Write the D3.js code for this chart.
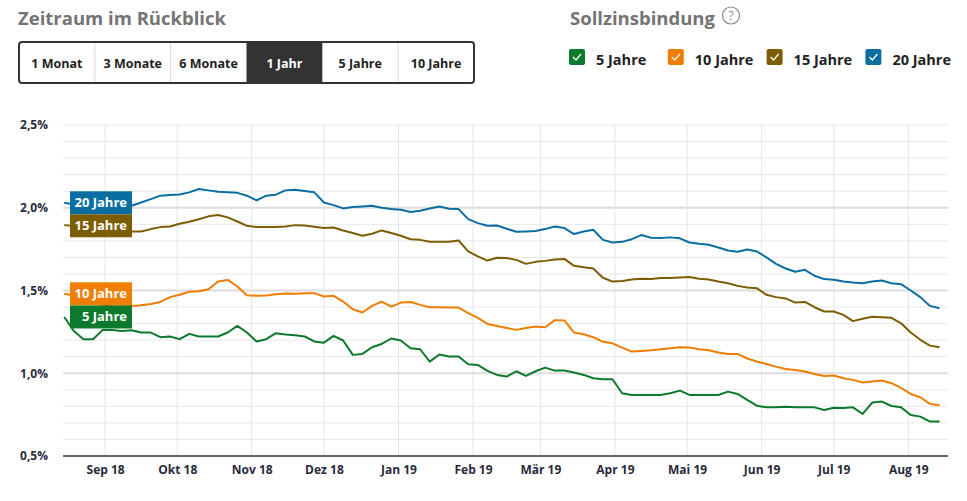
<!DOCTYPE html>
<html>
<head>
<meta charset="utf-8">
<script src="https://cdn.jsdelivr.net/npm/d3@7"></script>
<style>
  html, body { margin: 0; padding: 0; background: #fff; }
  svg { display: block; font-family: "Open Sans", "Noto Sans", sans-serif; }
</style>
</head>
<body>
<svg id="chart" width="967" height="501"></svg>
<script>
// ---------- DATA ----------
const dates = [
 "2018-08-15","2018-08-19","2018-08-23","2018-08-27","2018-08-31","2018-09-04","2018-09-08","2018-09-12",
 "2018-09-16","2018-09-20","2018-09-24","2018-09-28","2018-10-02","2018-10-06","2018-10-10","2018-10-14",
 "2018-10-18","2018-10-22","2018-10-26","2018-10-30","2018-11-03","2018-11-07","2018-11-11","2018-11-15",
 "2018-11-19","2018-11-23","2018-11-27","2018-12-01","2018-12-05","2018-12-09","2018-12-13","2018-12-17",
 "2018-12-21","2018-12-25","2018-12-29","2019-01-02","2019-01-06","2019-01-10","2019-01-14","2019-01-18",
 "2019-01-22","2019-01-26","2019-01-30","2019-02-03","2019-02-07","2019-02-11","2019-02-15","2019-02-19",
 "2019-02-23","2019-02-27","2019-03-03","2019-03-07","2019-03-11","2019-03-15","2019-03-19","2019-03-23",
 "2019-03-27","2019-03-31","2019-04-04","2019-04-08","2019-04-12","2019-04-16","2019-04-20","2019-04-24",
 "2019-04-28","2019-05-02","2019-05-06","2019-05-10","2019-05-14","2019-05-18","2019-05-22","2019-05-26",
 "2019-05-30","2019-06-03","2019-06-07","2019-06-11","2019-06-15","2019-06-19","2019-06-23","2019-06-27",
 "2019-07-01","2019-07-05","2019-07-09","2019-07-13","2019-07-17","2019-07-21","2019-07-25","2019-07-29",
 "2019-08-02","2019-08-06","2019-08-10","2019-08-14"
];

const jahre5 = [
 1.34,1.255,1.206,1.206,1.262,1.262,1.255,1.26,1.246,1.246,1.218,1.222,1.206,1.238,1.222,1.222,
 1.222,1.246,1.286,1.246,1.192,1.206,1.242,1.234,1.23,1.222,1.192,1.185,1.226,1.198,1.111,1.117,
 1.157,1.177,1.21,1.198,1.151,1.145,1.07,1.113,1.101,1.101,1.054,1.05,1.014,0.99,0.98,1.012,
 0.984,1.012,1.034,1.016,1.016,1.004,0.99,0.97,0.964,0.964,0.879,0.869,0.869,0.869,0.869,0.879,
 0.895,0.869,0.869,0.869,0.869,0.889,0.875,0.839,0.804,0.794,0.794,0.798,0.794,0.794,0.794,0.778,
 0.792,0.79,0.794,0.754,0.823,0.829,0.802,0.794,0.748,0.738,0.708,0.708
];
const jahre10 = [
 1.48,1.47,1.45,1.43,1.41,1.405,1.403,1.407,1.411,1.419,1.431,1.46,1.474,1.492,1.496,1.508,
 1.554,1.564,1.524,1.472,1.468,1.47,1.478,1.482,1.48,1.484,1.484,1.464,1.468,1.433,1.387,1.367,
 1.407,1.433,1.403,1.427,1.431,1.413,1.399,1.399,1.397,1.397,1.363,1.335,1.298,1.286,1.274,1.262,
 1.274,1.282,1.278,1.321,1.319,1.246,1.236,1.218,1.19,1.181,1.155,1.131,1.135,1.139,1.145,1.151,
 1.157,1.155,1.145,1.139,1.125,1.117,1.117,1.089,1.071,1.056,1.04,1.026,1.02,1.01,0.996,0.984,
 0.986,0.97,0.96,0.944,0.95,0.956,0.94,0.911,0.875,0.855,0.815,0.806
];
const jahre15 = [
 1.895,1.89,1.88,1.87,1.86,1.857,1.857,1.857,1.857,1.871,1.883,1.887,1.903,1.915,1.931,1.948,
 1.956,1.942,1.917,1.891,1.883,1.883,1.883,1.887,1.895,1.893,1.885,1.877,1.881,1.863,1.847,1.831,
 1.843,1.863,1.847,1.831,1.81,1.806,1.794,1.794,1.794,1.802,1.736,1.706,1.681,1.698,1.696,1.685,
 1.661,1.673,1.679,1.687,1.691,1.649,1.641,1.633,1.577,1.554,1.558,1.567,1.571,1.569,1.575,1.575,
 1.579,1.581,1.571,1.567,1.554,1.544,1.528,1.518,1.514,1.474,1.46,1.452,1.427,1.431,1.399,1.373,
 1.373,1.353,1.315,1.329,1.341,1.339,1.335,1.302,1.246,1.202,1.167,1.157
];
const jahre20 = [
 2.03,2.02,2.01,2.01,2.0,2.0,2.0,2.012,2.032,2.052,2.073,2.077,2.08,2.093,2.113,2.105,
 2.097,2.093,2.09,2.073,2.044,2.073,2.079,2.105,2.109,2.101,2.093,2.032,2.016,1.996,2.004,2.008,
 2.012,2.0,1.992,1.988,1.974,1.982,1.996,2.008,1.994,1.992,1.931,1.907,1.891,1.893,1.873,1.855,
 1.857,1.859,1.871,1.887,1.877,1.841,1.857,1.867,1.806,1.79,1.794,1.81,1.835,1.819,1.817,1.821,
 1.815,1.79,1.782,1.776,1.76,1.742,1.734,1.748,1.736,1.7,1.661,1.633,1.613,1.625,1.589,1.569,
 1.565,1.554,1.548,1.544,1.554,1.56,1.544,1.538,1.5,1.46,1.407,1.393
];

const seriesNames  = ["5 Jahre", "10 Jahre", "15 Jahre", "20 Jahre"];
const seriesValues = [jahre5, jahre10, jahre15, jahre20];
const seriesColors = ["#0c7a2c", "#ef7d00", "#7c5d04", "#0a6ea0"];

const rangeButtons = ["1 Monat", "3 Monate", "6 Monate", "1 Jahr", "5 Jahre", "10 Jahre"];
const activeButton = "1 Jahr";
const monthNames = ["Jan","Feb","Mär","Apr","Mai","Jun","Jul","Aug","Sep","Okt","Nov","Dez"];
const yTicks = [0.5, 1.0, 1.5, 2.0, 2.5];
const yMinorTicks = [0.6,0.7,0.8,0.9,1.1,1.2,1.3,1.4,1.6,1.7,1.8,1.9,2.1,2.2,2.3,2.4];

// ---------- LAYOUT ----------
const svg = d3.select("#chart");
const parse = d3.timeParse("%Y-%m-%d");
const dateObjs = dates.map(parse);

const plot = { left: 63, right: 948, top: 125, bottom: 456 };
const x = d3.scaleTime()
  .domain([new Date(2018, 7, 14, 12), new Date(2019, 7, 17, 12)])
  .range([plot.left, plot.right]);
const y = d3.scaleLinear().domain([0.5, 2.5]).range([plot.bottom, plot.top]);

// ---------- HEADER ----------
svg.append("text").attr("x", 18).attr("y", 25)
  .attr("font-size", 18.5).attr("font-weight", 700).attr("fill", "#747474")
  .text("Zeitraum im Rückblick");

const btnX0 = 19, btnY0 = 42, btnW = (474 - 19) / rangeButtons.length, btnH = 41;
const btnG = svg.append("g");
btnG.append("rect").attr("x", btnX0).attr("y", btnY0).attr("width", btnW * rangeButtons.length)
  .attr("height", btnH).attr("rx", 3).attr("fill", "#fff");
rangeButtons.forEach((b, i) => {
  const bx = btnX0 + i * btnW;
  if (b === activeButton) {
    btnG.append("rect").attr("x", bx).attr("y", btnY0).attr("width", btnW).attr("height", btnH)
      .attr("fill", "#333333");
  } else if (i > 0 && rangeButtons[i - 1] !== activeButton) {
    btnG.append("line").attr("x1", bx).attr("x2", bx).attr("y1", btnY0).attr("y2", btnY0 + btnH)
      .attr("stroke", "#d8d8d8").attr("stroke-width", 1);
  }
  btnG.append("text").attr("x", bx + btnW / 2).attr("y", 68)
    .attr("text-anchor", "middle").attr("font-size", 12.5).attr("font-weight", 700)
    .attr("fill", b === activeButton ? "#fff" : "#222")
    .text(b);
});
btnG.append("rect").attr("x", btnX0).attr("y", btnY0).attr("width", btnW * rangeButtons.length)
  .attr("height", btnH).attr("rx", 3).attr("fill", "none").attr("stroke", "#333").attr("stroke-width", 2);

svg.append("text").attr("x", 570).attr("y", 25)
  .attr("font-size", 18.5).attr("font-weight", 700).attr("fill", "#747474")
  .text("Sollzinsbindung");
svg.append("circle").attr("cx", 731).attr("cy", 15.5).attr("r", 8.5)
  .attr("fill", "none").attr("stroke", "#8a8a8a").attr("stroke-width", 1.2);
svg.append("text").attr("x", 731).attr("y", 20).attr("text-anchor", "middle")
  .attr("font-size", 12).attr("fill", "#8a8a8a").text("?");

// Legend
const legG = svg.append("g");
seriesNames.forEach((name, i) => {
  const lx = 569 + i * 98.8;
  legG.append("rect").attr("x", lx).attr("y", 49).attr("width", 16).attr("height", 16)
    .attr("rx", 2).attr("fill", seriesColors[i]);
  legG.append("path").attr("d", `M${lx + 4},${57} L${lx + 7},${60} L${lx + 12},${54}`)
    .attr("fill", "none").attr("stroke", "#fff").attr("stroke-width", 1.3);
  legG.append("text").attr("x", lx + 27).attr("y", 65)
    .attr("font-size", 14.5).attr("font-weight", 700).attr("fill", "#222").text(name);
});

// ---------- GRID ----------
const grid = svg.append("g");
grid.selectAll(".minor").data(yMinorTicks).enter().append("line")
  .attr("x1", plot.left).attr("x2", plot.right)
  .attr("y1", d => y(d)).attr("y2", d => y(d))
  .attr("stroke", "#e8e8e8").attr("stroke-width", 1);
grid.selectAll(".major").data(yTicks.filter(d => d > 0.5)).enter().append("line")
  .attr("x1", plot.left).attr("x2", plot.right)
  .attr("y1", d => y(d)).attr("y2", d => y(d))
  .attr("stroke", d => d === 2.5 ? "#e6e6e6" : "#dcdcdc").attr("stroke-width", d => d === 2.5 ? 1 : 2);

const months = d3.timeMonth.range(new Date(2018, 8, 1), new Date(2019, 7, 17));
grid.selectAll(".vgrid").data(months).enter().append("line")
  .attr("x1", d => x(d)).attr("x2", d => x(d))
  .attr("y1", plot.top).attr("y2", plot.bottom)
  .attr("stroke", "#e4e4e4").attr("stroke-width", 1);

// ---------- AXES ----------
const xAxis = d3.axisBottom(x).tickValues(months).tickSize(0).tickPadding(0)
  .tickFormat(d => monthNames[d.getMonth()] + " " + String(d.getFullYear()).slice(2));
const xg = svg.append("g").attr("transform", `translate(0,${plot.bottom})`).call(xAxis);
xg.select(".domain").remove();
xg.selectAll("text").attr("y", 18).attr("dy", 0).attr("font-size", 12).attr("font-weight", 700)
  .attr("fill", "#2a2a3a").attr("font-family", "Open Sans, sans-serif");

svg.append("line").attr("x1", plot.left).attr("x2", plot.right)
  .attr("y1", plot.bottom).attr("y2", plot.bottom).attr("stroke", "#333").attr("stroke-width", 1.5);

const yAxis = d3.axisLeft(y).tickValues(yTicks).tickSize(0).tickPadding(0)
  .tickFormat(d => d3.format(".1f")(d).replace(".", ",") + "%");
const yg = svg.append("g").attr("transform", `translate(48,0)`).call(yAxis);
yg.select(".domain").remove();
yg.selectAll("text").attr("font-size", 12).attr("font-weight", 700).attr("fill", "#2a2a3a")
  .attr("font-family", "Open Sans, sans-serif");

// ---------- LINES ----------
const line = d3.line().x((d, i) => x(dateObjs[i])).y(d => y(d)).curve(d3.curveLinear);
const linesG = svg.append("g");
seriesValues.forEach((vals, i) => {
  linesG.append("path").datum(vals).attr("d", line)
    .attr("fill", "none").attr("stroke", seriesColors[i]).attr("stroke-width", 2)
    .attr("stroke-linejoin", "round");
});

// ---------- START BADGES ----------
const badgeH = 23;
let badges = seriesValues.map((vals, i) => ({ i, cy: y(vals[0]) }));
badges.sort((a, b) => a.cy - b.cy);
for (let k = 1; k < badges.length; k++) {
  if (badges[k].cy - badges[k - 1].cy < badgeH) badges[k].cy = badges[k - 1].cy + badgeH;
}
const badgeG = svg.append("g");
badges.forEach(b => {
  badgeG.append("rect").attr("x", 70).attr("y", b.cy - badgeH / 2).attr("width", 62).attr("height", badgeH)
    .attr("fill", seriesColors[b.i]);
  badgeG.append("text").attr("x", 127).attr("y", b.cy + 4.5).attr("text-anchor", "end")
    .attr("font-size", 13).attr("font-weight", 700).attr("fill", "#fff").text(seriesNames[b.i]);
});
</script>
</body>
</html>
